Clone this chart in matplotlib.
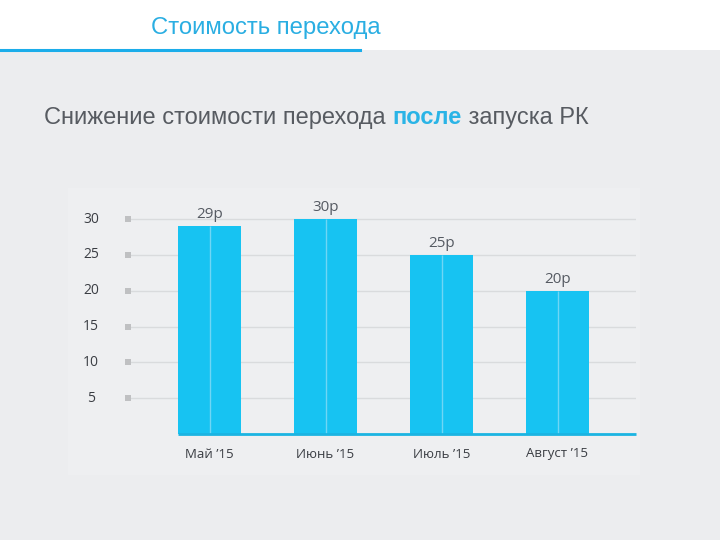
import matplotlib
matplotlib.use("Agg")
import matplotlib.pyplot as plt
from matplotlib.patches import Rectangle
from matplotlib.lines import Line2D
import matplotlib.transforms as mtransforms

categories = ["Май ’15", "Июнь ’15", "Июль ’15", "Август ’15"]
values = [29, 30, 25, 20]
value_labels = ["29р", "30р", "25р", "20р"]
yticks = [5, 10, 15, 20, 25, 30]

W, H = 720, 540
fig = plt.figure(figsize=(7.2, 5.4), dpi=100)
fig.patch.set_facecolor("#ecedef")

def fx(px):
    return px / W

def fy(py):
    return 1 - py / H

# white header band
fig.add_artist(Rectangle((0, fy(50)), 1, 50 / H, transform=fig.transFigure,
                         facecolor="white", edgecolor="none", zorder=0))
fig.add_artist(Line2D([0, fx(360)], [fy(50), fy(50)], transform=fig.transFigure,
                      color="#1badea", lw=2.2, zorder=1))
fig.text(fx(151), fy(28), "Стоимость перехода", fontsize=17.2, color="#2aaee2",
         family="Liberation Sans", ha="left", va="center")

# subtitle
sub_y = fy(118)
fs = 17.0
t1 = fig.text(fx(44), sub_y, "Снижение стоимости перехода ", fontsize=fs,
              color="#575b61", family="Liberation Sans", ha="left", va="center")
fig.canvas.draw()
r = fig.canvas.get_renderer()
bb = t1.get_window_extent(r)
t2 = fig.text(bb.x1 / W, sub_y, "после", fontsize=fs, color="#2ab4e6",
              family="Liberation Sans", weight="bold", ha="left", va="center")
bb2 = t2.get_window_extent(r)
fig.text(bb2.x1 / W, sub_y, " запуска РК", fontsize=fs, color="#575b61",
         family="Liberation Sans", ha="left", va="center")

# chart panel (very subtle)
fig.add_artist(Rectangle((fx(68), fy(475)), (640 - 68) / W, (475 - 188) / H,
                         transform=fig.transFigure, facecolor="#eeeff1",
                         edgecolor="none", zorder=0))

# axes
ax_left, ax_right = 128, 636
ax_bottom, ax_top = 434, 190
ax = fig.add_axes([fx(ax_left), fy(ax_bottom), (ax_right - ax_left) / W,
                   (ax_bottom - ax_top) / H])
ax.set_facecolor("none")
for s in ax.spines.values():
    s.set_visible(False)

spacing = 116.0
c0 = 209.5
xlim0 = (ax_left - c0) / spacing
xlim1 = (ax_right - c0) / spacing
ax.set_xlim(xlim0, xlim1)
ppu = (398 - 219) / 25.0
ax.set_ylim(0, (ax_bottom - ax_top) / ppu)

xs = list(range(len(categories)))
bw = 63 / spacing
ax.bar(xs, values, width=bw, color="#17c3f2", zorder=3, linewidth=0)
ax.vlines(xs, 0, values, color="#6fd6f5", lw=1.0, zorder=4)

for t in yticks:
    ax.axhline(t, color="#d9dbdd", lw=1, zorder=1)
ax.scatter([xlim0] * len(yticks), yticks, marker="s", s=14, color="#bfc0c2",
           zorder=5, clip_on=False, linewidths=0)

# baseline
ax.plot([xs[0] - bw / 2, xlim1], [0, 0], color="#1bb4e2", lw=2, zorder=4,
        solid_capstyle="butt", clip_on=False)

ax.set_xticks([])
ax.set_yticks([])

trans_y = mtransforms.blended_transform_factory(fig.transFigure, ax.transData)
for t in yticks:
    ax.text(fx(91), t, str(t), transform=trans_y, ha="center", va="center",
            fontsize=10, color="#3a3d43", family="Open Sans")

for x, v, lab in zip(xs, values, value_labels):
    ax.annotate(lab, (x, v), xytext=(0, 3), textcoords="offset points",
                ha="center", va="bottom", fontsize=11, color="#555a62",
                family="Open Sans", weight="medium")

trans_x = mtransforms.blended_transform_factory(ax.transData, fig.transFigure)
for x, c in zip(xs, categories):
    ax.text(x, fy(454), c, transform=trans_x, ha="center", va="center",
            fontsize=9.5, color="#3a3d43", family="Open Sans")

fig.savefig("out.png", dpi=100, facecolor=fig.get_facecolor())
